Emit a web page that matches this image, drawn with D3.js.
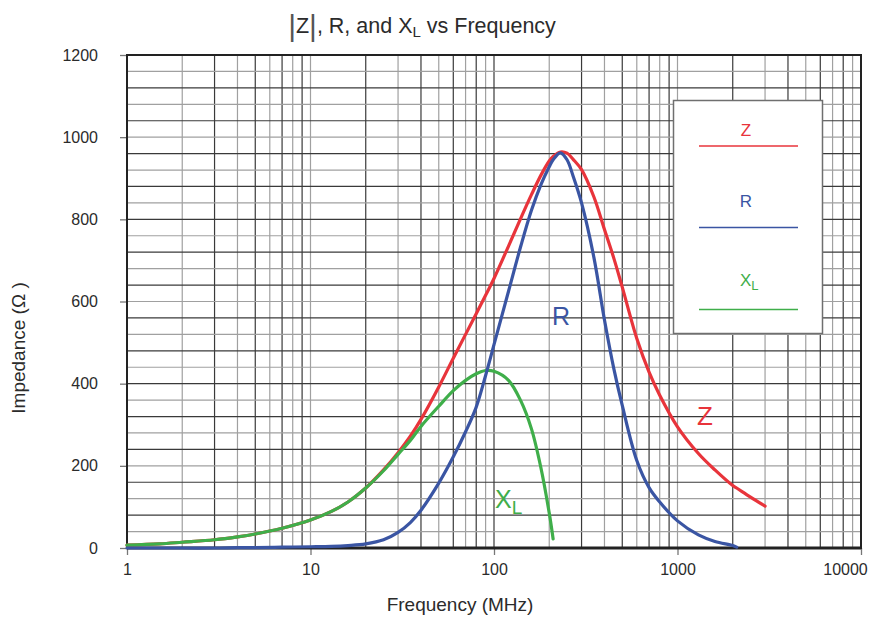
<!DOCTYPE html>
<html>
<head>
<meta charset="utf-8">
<script src="https://cdn.jsdelivr.net/npm/d3@7"></script>
<style>
  body { margin: 0; background: #fff; }
  text { font-family: "Liberation Sans", Arial, sans-serif; fill: #2b2b2b; }
</style>
</head>
<body>
<div id="chart"></div>
<script>
// frequencies (MHz) shared by all three curves
var freqs = [1, 1.5, 2, 3, 4, 5, 7, 10, 13, 16, 20, 25, 30, 35, 40, 50, 60, 70, 80, 90,
  100, 120, 140, 160, 180, 200, 210, 230, 250, 270, 300, 350, 400, 450, 500, 600, 700, 800,
  1000, 1300, 1600, 2000, 2100, 2500, 3000]

// impedance values (ohm), null where the curve is not drawn
var zValues = [7, 10, 14, 20, 27, 34, 48, 68, 89, 112, 146, 190, 232, 272, 313, 392, 462, 520, 570, 615,
  656, 735, 803, 860, 907, 942, 953, 964, 961, 946, 921, 855, 775, 705, 635, 510, 428, 372,
  295, 230, 190, 152, 146, 124, 102]
var rValues = [0, 0, 0, 0, 1, 1, 2, 3, 4, 6, 10, 20, 38, 62, 92, 158, 222, 283, 343, 420,
  495, 625, 735, 822, 884, 928, 945, 962, 945, 905, 840, 708, 555, 436, 347, 213, 147, 112,
  66, 32, 16, 6, 2, null, null]
var xlValues = [7, 10, 14, 20, 27, 34, 48, 68, 89, 112, 146, 188, 228, 262, 296, 345, 383, 408, 424, 432,
  430, 408, 358, 290, 196, 85, 22, null, null, null, null, null, null, null, null, null, null, null,
  null, null, null, null, null, null, null]

var xTickValues = [1, 10, 100, 1000, 10000]
var yTickValues = [0, 200, 400, 600, 800, 1000, 1200]
var yGridValues = d3.range(0, 1201, 40)

var red = "#e8343b", blue = "#3a55a3", green = "#3fae4a"

// set the dimensions and margins of the graph
var margin = {top: 55, right: 8, bottom: 71, left: 127},
    width = 869 - margin.left - margin.right,
    height = 619 - margin.top - margin.bottom

var root = d3.select("#chart")
  .append("svg")
    .attr("width", 869)
    .attr("height", 619)

var svg = root.append("g")
    .attr("transform", "translate(" + margin.left + "," + margin.top + ")")

var x = d3.scaleLog()
  .domain([1, 10000])
  .range([0, width])

var y = d3.scaleLinear()
  .domain([0, 1200])
  .range([height, 0])

// grid lines, alternating dark and grey like the original
svg.append("g")
  .selectAll("line")
  .data(x.ticks())
  .enter()
  .append("line")
    .attr("x1", function(d) { return x(d) })
    .attr("x2", function(d) { return x(d) })
    .attr("y1", 0)
    .attr("y2", height)
    .attr("stroke", function(d, i) { return i % 2 == 0 ? "#3a3a3a" : "#a0a0a0" })
    .attr("stroke-width", 1.2)

svg.append("g")
  .selectAll("line")
  .data(yGridValues)
  .enter()
  .append("line")
    .attr("x1", 0)
    .attr("x2", width)
    .attr("y1", function(d) { return y(d) })
    .attr("y2", function(d) { return y(d) })
    .attr("stroke", function(d, i) { return i % 2 == 0 ? "#3a3a3a" : "#a0a0a0" })
    .attr("stroke-width", 1.2)

// axes
var yAxis = svg.append("g")
  .call(d3.axisLeft(y).tickValues(yTickValues).tickFormat(d3.format("d")).tickSize(7).tickPadding(22))
yAxis.select(".domain").remove()
yAxis.selectAll("line").attr("stroke", "#777").attr("stroke-width", 1.3)
yAxis.selectAll("text")
  .style("font-size", "16px")
  .style("font-family", "Liberation Sans, Arial, sans-serif")
  .attr("fill", "#2b2b2b")

var xAxis = svg.append("g")
  .attr("transform", "translate(0," + height + ")")
  .call(d3.axisBottom(x).tickValues(xTickValues).tickFormat(d3.format("d")).tickSize(7).tickPadding(9))
xAxis.select(".domain").remove()
xAxis.selectAll("line").attr("stroke", "#777").attr("stroke-width", 1.3)
xAxis.selectAll("text")
  .style("font-size", "16px")
  .style("font-family", "Liberation Sans, Arial, sans-serif")
  .attr("fill", "#2b2b2b")
// the last label sits a little to the left so it stays inside the page
xAxis.selectAll("text")
  .filter(function(d) { return d == 10000 })
  .attr("dx", -16)

// plot frame
svg.append("rect")
  .attr("x", 0)
  .attr("y", 0)
  .attr("width", width)
  .attr("height", height)
  .attr("fill", "none")
  .attr("stroke", "#222")
  .attr("stroke-width", 2)
svg.append("line")
  .attr("x1", 0).attr("x2", width)
  .attr("y1", height).attr("y2", height)
  .attr("stroke", "#222")
  .attr("stroke-width", 3)

// the curves
function series(values) {
  return freqs.map(function(f, i) { return {f: f, v: values[i]} })
}

var line = d3.line()
  .defined(function(d) { return d.v != null })
  .x(function(d) { return x(d.f) })
  .y(function(d) { return y(d.v) })
  .curve(d3.curveCatmullRom.alpha(0.5))

var curves = [[zValues, red], [xlValues, green], [rValues, blue]]
curves.forEach(function(c) {
  svg.append("path")
    .datum(series(c[0]))
    .attr("fill", "none")
    .attr("stroke", c[1])
    .attr("stroke-width", 3.2)
    .attr("stroke-linejoin", "round")
    .attr("stroke-linecap", "round")
    .attr("d", line)
})

// labels on the curves
root.append("text")
  .attr("x", 561).attr("y", 325)
  .attr("text-anchor", "middle")
  .style("font-size", "25px")
  .style("fill", blue)
  .text("R")
root.append("text")
  .attr("x", 705).attr("y", 425)
  .attr("text-anchor", "middle")
  .style("font-size", "26px")
  .style("fill", red)
  .text("Z")
var xlLabel = root.append("text")
  .attr("x", 495).attr("y", 508)
  .style("font-size", "25px")
  .style("fill", green)
xlLabel.append("tspan").text("X")
xlLabel.append("tspan").attr("dy", 6).style("font-size", "19px").text("L")

// legend
var legend = root.append("g")
legend.append("rect")
  .attr("x", 673.5).attr("y", 100.5)
  .attr("width", 149).attr("height", 233)
  .attr("fill", "#fff")
  .attr("stroke", "#6f6f6f")
  .attr("stroke-width", 1.5)

var legendItems = [
  {name: "Z", color: red, ty: 136, ly: 146},
  {name: "R", color: blue, ty: 207, ly: 227.5},
  {name: "X", sub: "L", color: green, ty: 286, ly: 309.5}
]
legendItems.forEach(function(d) {
  var t = legend.append("text")
    .attr("x", d.sub ? 740 : 746).attr("y", d.ty)
    .attr("text-anchor", d.sub ? "start" : "middle")
    .style("font-size", "17px")
    .style("fill", d.color)
  t.append("tspan").text(d.name)
  if (d.sub) t.append("tspan").attr("dy", 4).style("font-size", "13px").text(d.sub)
  legend.append("line")
    .attr("x1", 699).attr("x2", 798)
    .attr("y1", d.ly).attr("y2", d.ly)
    .attr("stroke", d.color)
    .attr("stroke-width", 1.6)
})

// title
var title = root.append("text")
  .attr("x", 422).attr("y", 33)
  .attr("text-anchor", "middle")
  .style("font-size", "21.5px")
title.append("tspan").style("font-size", "30px").style("fill", "#555").attr("dy", 3).text("|")
title.append("tspan").attr("dy", -3).text("Z")
title.append("tspan").style("font-size", "30px").style("fill", "#555").attr("dy", 3).text("|")
title.append("tspan").attr("dy", -3).text(", R, and X")
title.append("tspan").attr("dy", 4).style("font-size", "15px").text("L")
title.append("tspan").attr("dy", -4).text(" vs Frequency")

// axis titles
root.append("text")
  .attr("x", 460).attr("y", 611)
  .attr("text-anchor", "middle")
  .style("font-size", "19px")
  .text("Frequency (MHz)")

root.append("text")
  .attr("transform", "translate(25,348) rotate(-90)")
  .attr("text-anchor", "middle")
  .style("font-size", "19px")
  .text("Impedance (\u03A9 )")
</script>
</body>
</html>
